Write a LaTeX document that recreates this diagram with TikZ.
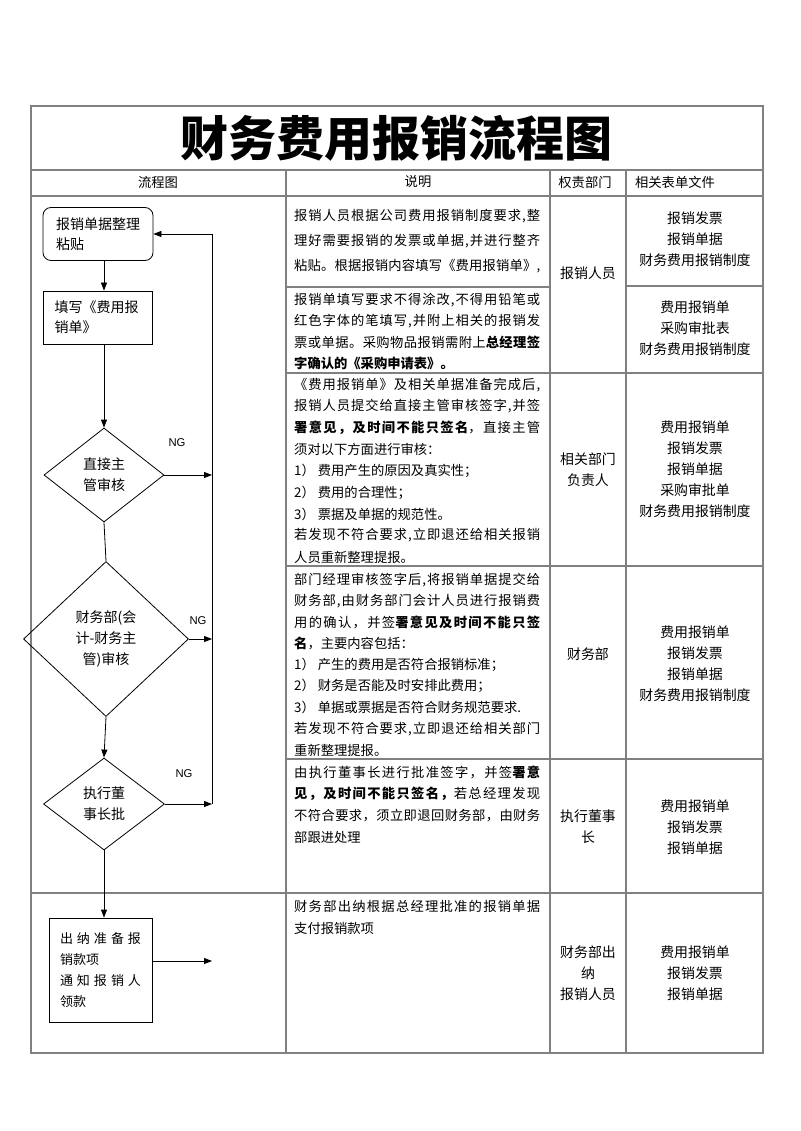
\documentclass[tikz,border=0pt]{standalone}
\usepackage{fontspec}
\setmainfont{Noto Sans CJK SC}
\newfontfamily\ngfont{Liberation Sans}
\usetikzlibrary{shapes.geometric,arrows.meta}
\newcommand\cjkg{\hskip0pt plus 1pt\relax}
\newcount\mycnt
\mycnt="3000 \loop \XeTeXcharclass\mycnt=7 \advance\mycnt 1 \ifnum\mycnt<"A000 \repeat
\mycnt="FF00 \loop \XeTeXcharclass\mycnt=7 \advance\mycnt 1 \ifnum\mycnt<"FF60 \repeat
\XeTeXinterchartokenstate=1
\XeTeXinterchartoks 7 7 = {\cjkg}
\XeTeXinterchartoks 0 7 = {\cjkg}
\XeTeXinterchartoks 7 0 = {\cjkg}
\newcommand\bodyf{\fontsize{13.3}{21}\selectfont}
\newcommand\cellf{\fontsize{13.9}{21}\selectfont}
\newcommand\jl[1]{\makebox[246pt][s]{#1}}
\begin{document}
\begin{tikzpicture}[x=1pt,y=-1pt,
  tline/.style={draw=black!50,line width=1.2pt},
  fbox/.style={draw,line width=0.8pt,inner sep=0pt,align=left,font=\fontsize{14}{20}\selectfont},
  dia/.style={diamond,draw,line width=0.8pt,inner sep=0pt,align=center,font=\fontsize{14}{21}\selectfont},
  arr/.style={-{Triangle[length=8pt,width=6pt]},line width=0.8pt},
  flw/.style={line width=0.8pt},
  dl/.style={anchor=west,inner sep=0pt,font=\bodyf},
  hd/.style={align=center,inner sep=0pt,font=\bodyf},
  cc/.style={align=center,inner sep=0pt,font=\cellf},
  ng/.style={inner sep=0pt,font=\ngfont\fontsize{11.3}{12}\selectfont}]
\useasboundingbox (0,0) rectangle (800,1131);
\fill[white] (0,0) rectangle (800,1131);
% table
\draw[tline] (31,106) rectangle (763,1053);
\draw[tline] (31,170) -- (763,170) (31,196) -- (763,196) (31,893) -- (763,893);
\draw[tline] (286,170) -- (286,1053) (550,170) -- (550,1053) (626,170) -- (626,1053);
\draw[tline] (286,287) -- (550,287) (626,286) -- (763,286);
\draw[tline] (286,373) -- (763,373) (286,566) -- (763,566) (286,759) -- (763,759);
% title and header
\node[inner sep=0pt,font=\fontsize{48}{48}\selectfont\bfseries] (title) at (396,138) {财务费用报销流程图};
\node[hd] (h1) at (158,182) {流程图};
\node[hd] (h2) at (418,182) {说明};
\node[hd] (h3) at (585,182) {权责部门};
\node[hd] (h4) at (675,182) {相关表单文件};
% flowchart
\node[fbox,rounded corners=8pt,minimum width=110pt,minimum height=53pt,text width=84pt] (b1) at (98,234) {报销单据整理\\粘贴};
\node[fbox,minimum width=109pt,minimum height=53pt,text width=86pt] (b2) at (97.5,317.5) {填写《费用报\\销单》};
\node[dia,minimum width=120pt,minimum height=94pt] (d1) at (104,475) {直接主\\管审核};
\node[dia,minimum width=165pt,minimum height=155pt] (d2) at (106,639) {财务部(会\\计-财务主\\管)审核};
\node[dia,minimum width=121pt,minimum height=92pt] (d3) at (104,804) {执行董\\事长批};
\node[fbox,minimum width=103pt,minimum height=104pt,text width=81pt,font=\fontsize{13}{21}\selectfont] (b3) at (100.5,970) {\makebox[81pt][s]{出纳准备报}\\销款项\\\makebox[81pt][s]{通知报销人}\\领款};
\coordinate (rt) at (212,234);
\coordinate (pay) at (212,961);
\draw[arr] (b1.south -| d1.north) -- (b2.north -| d1.north);
\draw[arr] (b2.south -| d1.north) -- (d1.north);
\draw[flw] (d1.south) -- (d2.north);
\draw[arr] (d2.south) -- (d3.north);
\draw[arr] (d3.south) -- (d3.south |- b3.north);
\draw[arr] (d1.east) -- (d1.east -| rt);
\draw[arr] (d2.east) -- (d2.east -| rt);
\draw[arr] (d3.east) -- (d3.east -| rt);
\draw[flw] (d3.east -| rt) -- (rt);
\draw[arr] (rt) -- (rt -| b1.east);
\draw[arr] (b3.east |- pay) -- (pay);
\node[ng] (ng1) at (177,443) {NG};
\node[ng] (ng2) at (198,621) {NG};
\node[ng] (ng3) at (184,774) {NG};
% description column
\foreach \t [count=\i] in {
 {\jl{报销人员根据公司费用报销制度要求,整}},
 {\jl{理好需要报销的发票或单据,并进行整齐}},
 {\jl{粘贴。根据报销内容填写《费用报销单》,}}}
 \node[dl] (ra\i) at (294,{216+25*(\i-1)}) {\t};
\foreach \t [count=\i] in {
 {\jl{报销单填写要求不得涂改,不得用铅笔或}},
 {\jl{红色字体的笔填写,并附上相关的报销发}},
 {\jl{票或单据。采购物品报销需附上\textbf{总经理签}}},
 {\textbf{字确认的《采购申请表》。}}}
 \node[dl] (rb\i) at (294,{300+21*(\i-1)}) {\t};
\foreach \t [count=\i] in {
 {\jl{《费用报销单》及相关单据准备完成后,}},
 {\jl{报销人员提交给直接主管审核签字,并签}},
 {\jl{\textbf{署意见，及时间不能只签名}，直接主管}},
 {须对以下方面进行审核：},
 {1）\ 费用产生的原因及真实性；},
 {2）\ 费用的合理性；},
 {3）\ 票据及单据的规范性。},
 {\jl{若发现不符合要求,立即退还给相关报销}},
 {人员重新整理提报。}}
 \node[dl] (rc\i) at (294,{385+21.5*(\i-1)}) {\t};
\foreach \t [count=\i] in {
 {\jl{部门经理审核签字后,将报销单据提交给}},
 {\jl{财务部,由财务部门会计人员进行报销费}},
 {\jl{用的确认，并签\textbf{署意见及时间不能只签}}},
 {\textbf{名}，主要内容包括：},
 {1）\ 产生的费用是否符合报销标准；},
 {2）\ 财务是否能及时安排此费用；},
 {3）\ 单据或票据是否符合财务规范要求.},
 {\jl{若发现不符合要求,立即退还给相关部门}},
 {重新整理提报。}}
 \node[dl] (rd\i) at (294,{580+21.25*(\i-1)}) {\t};
\foreach \t [count=\i] in {
 {\jl{由执行董事长进行批准签字，并签\textbf{署意}}},
 {\jl{\textbf{见，及时间不能只签名，}若总经理发现}},
 {\jl{不符合要求，须立即退回财务部，由财务}},
 {部跟进处理}}
 \node[dl] (re\i) at (294,{772+21.7*(\i-1)}) {\t};
\foreach \t [count=\i] in {
 {\jl{财务部出纳根据总经理批准的报销单据}},
 {支付报销款项}}
 \node[dl] (rf\i) at (294,{906+22*(\i-1)}) {\t};
% department column
\node[cc] (pa) at (588,273) {报销人员};
\node[cc] (pb) at (588,469.5) {相关部门\\负责人};
\node[cc] (pc) at (588,654) {财务部};
\node[cc] (pd) at (588,827) {执行董事\\长};
\node[cc] (pe) at (588,973.5) {财务部出\\纳\\报销人员};
% forms column
\node[cc] (fa) at (695,239) {报销发票\\报销单据\\财务费用报销制度};
\node[cc] (fb) at (695,328) {费用报销单\\采购审批表\\财务费用报销制度};
\node[cc] (fc) at (695,469.5) {费用报销单\\报销发票\\报销单据\\采购审批单\\财务费用报销制度};
\node[cc] (fd) at (695,663.5) {费用报销单\\报销发票\\报销单据\\财务费用报销制度};
\node[cc] (fe) at (695,827) {费用报销单\\报销发票\\报销单据};
\node[cc] (ff) at (695,973.5) {费用报销单\\报销发票\\报销单据};
\end{tikzpicture}
\end{document}
